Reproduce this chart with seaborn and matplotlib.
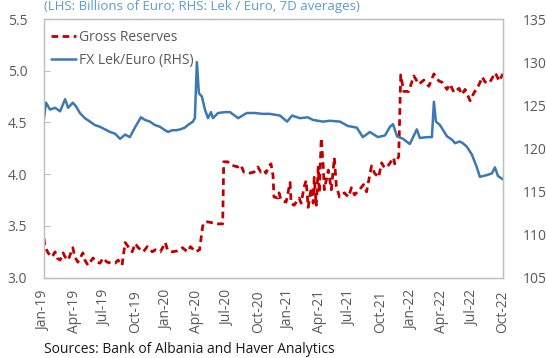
import matplotlib
matplotlib.use("Agg")
import matplotlib.pyplot as plt
import matplotlib.dates as mdates
import pandas as pd
import seaborn as sns

# Gross reserves, billions of euro (left axis)
reserve_dates = [
    "2019-01-01", "2019-01-04", "2019-01-13", "2019-01-25", "2019-02-03", "2019-02-09",
    "2019-02-18", "2019-02-27", "2019-03-05", "2019-03-14", "2019-03-28", "2019-04-03",
    "2019-04-12", "2019-04-27", "2019-05-03", "2019-05-12", "2019-05-27", "2019-06-08",
    "2019-06-17", "2019-06-26", "2019-07-08", "2019-07-23", "2019-08-01", "2019-08-10",
    "2019-08-22", "2019-08-25", "2019-08-31", "2019-09-09", "2019-09-21", "2019-09-30",
    "2019-10-09", "2019-10-24", "2019-11-05", "2019-11-20", "2019-11-29", "2019-12-14",
    "2019-12-29", "2020-01-04", "2020-01-19", "2020-02-03", "2020-02-18", "2020-03-04",
    "2020-03-13", "2020-03-28", "2020-04-09", "2020-04-18", "2020-04-21", "2020-05-03",
    "2020-05-18", "2020-06-05", "2020-06-17", "2020-06-20", "2020-07-02", "2020-07-11",
    "2020-08-01", "2020-08-10", "2020-08-19", "2020-09-03", "2020-09-18", "2020-09-30",
    "2020-10-09", "2020-10-18", "2020-10-24", "2020-11-02", "2020-11-08", "2020-11-14",
    "2020-11-17", "2020-11-29", "2020-12-02", "2020-12-08", "2020-12-23", "2021-01-04",
    "2021-01-07", "2021-01-16", "2021-01-31", "2021-02-06", "2021-02-15", "2021-02-21",
    "2021-02-27", "2021-03-08", "2021-03-14", "2021-03-17", "2021-03-23", "2021-03-29",
    "2021-04-01", "2021-04-07", "2021-04-13", "2021-04-16", "2021-04-28", "2021-05-07",
    "2021-05-16", "2021-05-22", "2021-05-28", "2021-05-31", "2021-06-15", "2021-06-27",
    "2021-07-06", "2021-07-15", "2021-07-30", "2021-08-11", "2021-08-20", "2021-09-04",
    "2021-09-13", "2021-09-25", "2021-10-04", "2021-10-13", "2021-10-25", "2021-11-09",
    "2021-11-12", "2021-11-24", "2021-11-30", "2021-12-09", "2021-12-24", "2022-01-08",
    "2022-01-23", "2022-02-07", "2022-02-22", "2022-03-09", "2022-03-24", "2022-04-02",
    "2022-04-17", "2022-04-26", "2022-05-08", "2022-05-23", "2022-06-01", "2022-06-10",
    "2022-06-25", "2022-07-07", "2022-07-16", "2022-07-25", "2022-07-31", "2022-08-09",
    "2022-08-21", "2022-08-30", "2022-09-08", "2022-09-20", "2022-09-29", "2022-10-01",
]
reserve_values = [
    3.38, 3.30, 3.24, 3.20, 3.25, 3.19,
    3.17, 3.24, 3.20, 3.17, 3.29, 3.20,
    3.15, 3.24, 3.17, 3.12, 3.19, 3.15,
    3.14, 3.19, 3.15, 3.14, 3.14, 3.17,
    3.12, 3.20, 3.34, 3.30, 3.25, 3.33,
    3.29, 3.25, 3.30, 3.25, 3.27, 3.25,
    3.34, 3.27, 3.25, 3.26, 3.29, 3.25,
    3.30, 3.25, 3.27, 3.49, 3.53, 3.54,
    3.53, 3.52, 3.52, 4.12, 4.12, 4.09,
    4.07, 4.09, 4.02, 4.01, 4.02, 4.07,
    4.02, 4.04, 4.01, 4.08, 4.10, 3.99,
    3.78, 3.77, 3.82, 3.75, 3.73, 3.92,
    3.72, 3.70, 3.77, 3.72, 3.88, 3.94,
    3.68, 3.87, 3.72, 3.97, 3.70, 4.07,
    3.82, 4.35, 4.07, 3.85, 4.04, 3.85,
    4.16, 3.88, 3.82, 3.78, 3.82, 3.78,
    3.87, 3.80, 3.85, 3.90, 3.83, 4.08,
    4.01, 3.97, 4.11, 4.06, 4.09, 4.16,
    4.10, 4.17, 4.96, 4.80, 4.80, 4.95,
    4.87, 4.91, 4.85, 4.97, 4.90, 4.89,
    4.82, 4.87, 4.79, 4.83, 4.77, 4.82,
    4.71, 4.79, 4.83, 4.89, 4.94, 4.89,
    4.88, 4.93, 4.98, 4.90, 4.96, 4.97,
]

# Lek per euro, 7-day average (right axis)
fx_dates = [
    "2019-01-01", "2019-01-07", "2019-01-19", "2019-02-03", "2019-02-18", "2019-03-05",
    "2019-03-14", "2019-03-28", "2019-04-06", "2019-04-18", "2019-05-03", "2019-05-18",
    "2019-06-02", "2019-06-17", "2019-07-02", "2019-07-17", "2019-08-01", "2019-08-16",
    "2019-08-31", "2019-09-14", "2019-09-29", "2019-10-17", "2019-10-29", "2019-11-13",
    "2019-11-28", "2019-12-13", "2019-12-28", "2020-01-06", "2020-01-18", "2020-01-30",
    "2020-02-11", "2020-02-25", "2020-03-05", "2020-03-20", "2020-03-26", "2020-04-01",
    "2020-04-07", "2020-04-16", "2020-04-25", "2020-05-04", "2020-05-13", "2020-05-19",
    "2020-06-03", "2020-06-24", "2020-07-09", "2020-08-02", "2020-08-28", "2020-09-21",
    "2020-10-12", "2020-11-05", "2020-12-05", "2020-12-26", "2021-01-10", "2021-02-02",
    "2021-02-26", "2021-03-13", "2021-04-12", "2021-05-03", "2021-06-02", "2021-06-25",
    "2021-07-22", "2021-08-09", "2021-08-30", "2021-09-23", "2021-10-14", "2021-10-29",
    "2021-11-07", "2021-11-19", "2021-12-07", "2021-12-27", "2022-01-17", "2022-01-26",
    "2022-02-16", "2022-03-03", "2022-03-09", "2022-03-15", "2022-03-27", "2022-04-17",
    "2022-05-02", "2022-05-11", "2022-05-25", "2022-06-03", "2022-06-15", "2022-06-30",
    "2022-07-15", "2022-07-24", "2022-08-14", "2022-08-29", "2022-09-07", "2022-09-16",
    "2022-10-01",
]
fx_values = [
    123.5, 125.3, 124.5, 124.7, 124.3, 125.7,
    124.7, 125.3, 124.9, 124.1, 123.5, 123.1,
    122.7, 122.5, 122.2, 121.9, 121.7, 121.1,
    121.6, 121.3, 122.4, 123.6, 123.3, 123.1,
    122.7, 122.5, 122.1, 121.9, 122.1, 122.1,
    122.2, 122.4, 122.7, 123.1, 123.5, 130.0,
    126.4, 126.0, 124.5, 123.5, 124.2, 123.5,
    124.1, 124.2, 124.2, 123.5, 124.1, 124.1,
    124.0, 124.0, 123.8, 123.1, 123.8, 123.5,
    123.6, 123.3, 123.1, 123.2, 123.1, 122.6,
    122.4, 121.3, 121.9, 121.3, 121.5, 122.5,
    122.8, 121.4, 121.1, 120.5, 122.2, 121.2,
    121.3, 121.3, 125.4, 123.1, 122.7, 121.4,
    121.0, 120.6, 120.8, 120.6, 120.2, 119.3,
    117.8, 116.7, 116.9, 117.1, 117.8, 116.8,
    116.4,
]

left_ticks = [3.0, 3.5, 4.0, 4.5, 5.0, 5.5]
right_ticks = [105, 110, 115, 120, 125, 130, 135]

reserves = pd.DataFrame({"date": pd.to_datetime(reserve_dates), "value": reserve_values})
fx = pd.DataFrame({"date": pd.to_datetime(fx_dates), "value": fx_values})

sns.set_style("white")
plt.rcParams["font.family"] = ["Open Sans", "DejaVu Sans"]

RED = "#C00000"
BLUE = "#3C78B4"
GRAY_TXT = "#595959"
FRAME = "#BFBFBF"

fig = plt.figure(figsize=(5.46, 3.58), dpi=100)
ax = fig.add_axes([0.0806, 0.2243, 0.8406, 0.7226])
ax2 = ax.twinx()

sns.lineplot(data=reserves, x="date", y="value", ax=ax, color=RED, linewidth=2.0,
             linestyle=(0, (2.4, 1.6)), label="Gross Reserves", legend=False)
sns.lineplot(data=fx, x="date", y="value", ax=ax2, color=BLUE, linewidth=1.8,
             label="FX Lek/Euro (RHS)", legend=False)

ax.set_xlim(pd.Timestamp("2019-01-01"), pd.Timestamp("2022-10-01"))
ax.set_ylim(3.0, 5.5)
ax2.set_ylim(105, 135)
ax.set_yticks(left_ticks)
ax.set_yticklabels([f"{t:.1f}" for t in left_ticks])
ax2.set_yticks(right_ticks)
ax2.set_yticklabels([str(t) for t in right_ticks])

ax.xaxis.set_major_locator(mdates.MonthLocator(bymonth=[1, 4, 7, 10]))
ax.xaxis.set_major_formatter(mdates.DateFormatter("%b-%y"))

for a in (ax, ax2):
    a.set_xlabel("")
    a.set_ylabel("")
    for s in a.spines.values():
        s.set_color(FRAME)
        s.set_linewidth(0.9)

ax.tick_params(axis="x", direction="in", length=4, width=0.8, color=FRAME,
               labelsize=10, labelcolor=GRAY_TXT, labelrotation=90, pad=9)
ax.tick_params(axis="y", direction="in", length=4, width=0.8, color=FRAME,
               labelsize=10, labelcolor=GRAY_TXT, pad=12)
ax2.tick_params(axis="y", direction="in", length=0, labelsize=10,
                labelcolor=GRAY_TXT, pad=14)

h1, l1 = ax.get_legend_handles_labels()
h2, l2 = ax2.get_legend_handles_labels()
leg = ax2.legend(h1 + h2, l1 + l2, loc="upper left", bbox_to_anchor=(-0.005, 0.995),
                 frameon=False, fontsize=10, handlelength=1.75, handletextpad=0.2,
                 labelspacing=0.55, borderaxespad=0.3)
for t in leg.get_texts():
    t.set_color(GRAY_TXT)

fig.text(0.0806, 0.999, "(LHS: Billions of Euro; RHS: Lek / Euro, 7D averages)",
         color="#5B9BD5", fontsize=9.5, ha="left", va="top")
fig.text(0.0806, 0.002, "Sources: Bank of Albania and Haver Analytics",
         color="#1A1A1A", fontsize=10, ha="left", va="bottom")

fig.savefig("out.png", dpi=100)
